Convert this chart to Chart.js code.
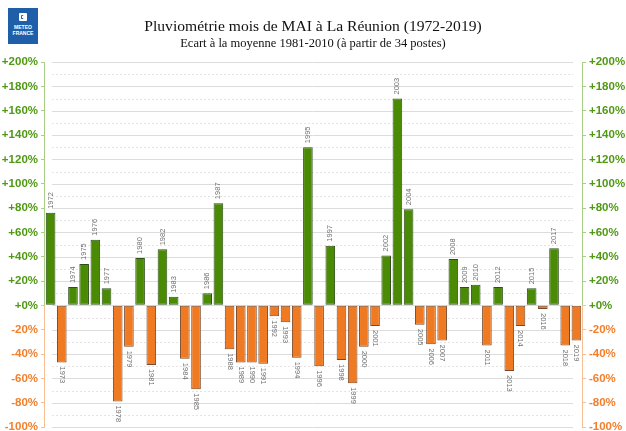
<!DOCTYPE html>
<html>
<head>
<meta charset="utf-8">
<script src="https://cdn.jsdelivr.net/npm/chart.js@4.4.1/dist/chart.umd.min.js"></script>
<style>
  html,body{margin:0;padding:0;background:#fff;overflow:hidden;}
  #wrap{position:relative;width:626px;height:431px;overflow:hidden;}
  #cv{position:absolute;left:0;top:0;}
  .titre{position:absolute;left:0;width:626px;text-align:center;font-family:"Liberation Serif","Times New Roman",serif;color:#111;white-space:nowrap;}
  #logo{position:absolute;left:8px;top:8px;width:30px;height:36px;background:#1f5fa9;color:#fff;font-family:"Liberation Sans",Arial,sans-serif;font-weight:bold;font-size:5px;line-height:6px;text-align:center;}
  #logo .ico{width:8px;height:8px;margin:5px auto 3px;background:#fff;border-radius:1px;position:relative;}
  #logo .ico:after{content:"";position:absolute;left:2px;top:2px;width:3px;height:4px;border:1px solid #1f5fa9;border-right-color:#fff;border-radius:2px;box-sizing:border-box;}
</style>
</head>
<body>
<div id="wrap">
  <canvas id="cv" width="626" height="440"></canvas>
  <div id="logo"><div class="ico"></div>METEO<br>FRANCE</div>
  <div class="titre" style="top:16.5px;font-size:15.6px;">Pluviométrie mois de MAI à La Réunion (1972-2019)</div>
  <div class="titre" style="top:36.3px;font-size:12.5px;">Ecart à la moyenne 1981-2010 (à partir de 34 postes)</div>
</div>
<script>
// donnees (ecart en %)
var annees=['1972','1973','1974','1975','1976','1977','1978','1979','1980','1981',
            '1982','1983','1984','1985','1986','1987','1988','1989','1990','1991',
            '1992','1993','1994','1995','1996','1997','1998','1999','2000','2001',
            '2002','2003','2004','2005','2006','2007','2008','2009','2010','2011',
            '2012','2013','2014','2015','2016','2017','2018','2019'];
var ecarts=[76,-47,15,34,54,14,-79,-34,39,-49,
            46,7,-44,-69,10,84,-36,-47,-47,-48,
            -9,-14,-43,130,-50,49,-45,-64,-34,-17,
            41,170,79,-16,-32,-29,38,15,17,-33,
            15,-54,-17,14,-3,47,-33,-29];
var yMin=-100, yMax=200, yPas=20;

var vert='#4a8a05', orange='#f07a22';
var vertTxt='#4f9a12', orangeTxt='#f27f2c';
var vertAxe='#a9cf86', orangeAxe='#f9bf94';

function etiquette(v){
    return (v>=0?'+':'')+v+'%';
}

var grillePlugin={
    id:'grille',
    beforeDatasetsDraw:function(chart){
        var ctx=chart.ctx, a=chart.chartArea, y=chart.scales.y;
        ctx.save();
        ctx.lineWidth=1;
        for(var v=yMin; v<=yMax; v+=yPas/2){
            var py=Math.round(y.getPixelForValue(v))+0.5;
            if(v%yPas==0){
                ctx.strokeStyle='#dcdcdc';
                ctx.setLineDash([]);
            }else{
                ctx.strokeStyle='#e4e4e4';
                ctx.setLineDash([2,2]);
            }
            ctx.beginPath();
            ctx.moveTo(a.left+7,py);
            ctx.lineTo(a.right-9,py);
            ctx.stroke();
        }
        // lignes des axes, vert au dessus de 0 et orange en dessous
        var zero=y.getPixelForValue(0);
        ctx.setLineDash([]);
        [a.left-0.5,a.right+0.5].forEach(function(x){
            ctx.strokeStyle=vertAxe;
            ctx.beginPath();ctx.moveTo(x,a.top);ctx.lineTo(x,zero);ctx.stroke();
            ctx.strokeStyle=orangeAxe;
            ctx.beginPath();ctx.moveTo(x,zero);ctx.lineTo(x,a.bottom);ctx.stroke();
        });
        ctx.restore();
    }
};

var anneesPlugin={
    id:'annees',
    afterDatasetsDraw:function(chart){
        var ctx=chart.ctx;
        var meta=chart.getDatasetMeta(0);
        ctx.save();
        ctx.font='7.5px "Liberation Sans", Arial, sans-serif';
        ctx.fillStyle='#707070';
        ctx.textBaseline='middle';
        ctx.textAlign='left';
        meta.data.forEach(function(bar,i){
            ctx.save();
            if(ecarts[i]>=0){
                ctx.translate(bar.x,bar.y-4);
                ctx.rotate(-Math.PI/2);
            }else{
                ctx.translate(bar.x,bar.y+4);
                ctx.rotate(Math.PI/2);
            }
            ctx.fillText(annees[i],0,0);
            ctx.restore();
        });
        ctx.restore();
    }
};

var axeY=function(pos,largeur){
    return {
        position:pos,
        min:yMin,max:yMax,
        afterFit:function(s){s.width=largeur;},
        border:{display:false},
        grid:{
            drawOnChartArea:false,
            drawTicks:true,
            tickLength:4,
            color:function(c){return c.tick && c.tick.value>0?vertAxe:orangeAxe;}
        },
        ticks:{
            stepSize:yPas,
            padding:3,
            callback:function(v){return etiquette(v);},
            color:function(c){return c.tick.value>=0?vertTxt:orangeTxt;},
            font:{family:'"Liberation Sans", Arial, sans-serif',size:11.5,weight:'bold'}
        }
    };
};

var ctx=document.getElementById('cv').getContext('2d');
var graphique=new Chart(ctx,{
    type:'bar',
    data:{
        labels:annees,
        datasets:[{
            data:ecarts,
            backgroundColor:function(c){return c.raw>=0?vert:orange;},
            borderColor:function(c){return c.raw>=0?'#2f4f1a':'#7a4a2a';},
            borderWidth:1,
            borderSkipped:false,
            barPercentage:0.86,
            categoryPercentage:1
        }]
    },
    options:{
        responsive:false,
        animation:false,
        layout:{padding:{top:62,bottom:13,left:0,right:0}},
        plugins:{legend:{display:false},tooltip:{enabled:false}},
        scales:{
            x:{display:false,offset:true},
            y:axeY('left',45),
            y2:axeY('right',44)
        }
    },
    plugins:[grillePlugin,anneesPlugin]
});
</script>
</body>
</html>
